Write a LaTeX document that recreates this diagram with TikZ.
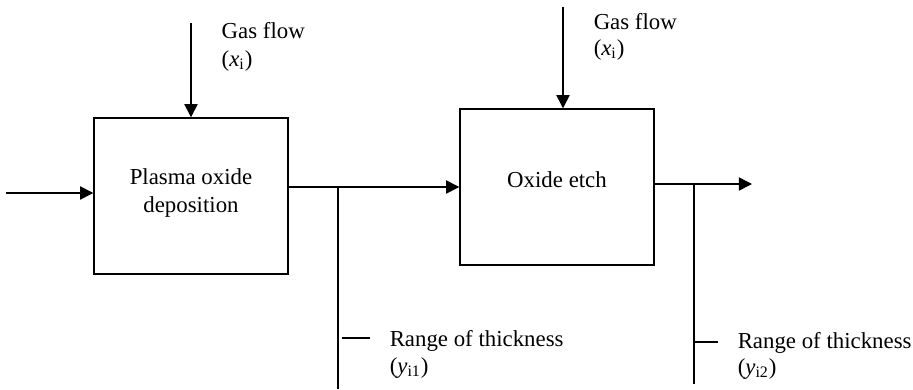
\documentclass[tikz,border=0pt]{standalone}
\usepackage{fontspec}
\setmainfont{Liberation Serif}
\usetikzlibrary{arrows.meta}

\begin{document}
\begin{tikzpicture}[x=0.02cm, y=-0.02cm, line width=0.85pt,
        font=\fontsize{13}{15.6}\selectfont,
        stagebox/.style={draw, minimum width=3.88cm, minimum height=3.12cm, align=center},
        flow/.style={-{Triangle[length=7.5pt, width=7.5pt]}},
        lbl/.style={anchor=base west, inner sep=0pt}]
        \useasboundingbox (0,0) rectangle (913,389);

        \node[stagebox, text depth=6pt] (dep) at (191,196) {Plasma oxide\\deposition};
        \node[stagebox, text depth=8pt] (etch) at (557,187) {Oxide etch};

        \coordinate (feed) at (6,193);
        \coordinate (gas1top) at (191,23);
        \coordinate (gas2top) at (563,7);
        \coordinate (out) at (752,184);
        \draw[flow] (feed) -- (feed -| dep.west);
        \draw[flow] (gas1top) -- (gas1top |- dep.north);
        \draw[flow] (gas2top) -- (gas2top |- etch.north);
        \draw[flow] (dep.east |- etch.west) -- (etch.west);
        \draw[flow] (out -| etch.east) -- (out);

        \coordinate (tap1) at (338,187);
        \coordinate (tap2) at (694,184);
        \draw (tap1) -- (tap1 |- 0,389);
        \draw (tap2) -- (tap2 |- 0,384);
        \draw (342,338) -- (370,338);
        \draw (694,342) -- (718,342);

        \node[lbl] (gas1) at (221,38) {Gas flow};
        \node[lbl] (gas1sym) at (221,66) {(\textit{x}\textsubscript{i})};
        \node[lbl] (gas2) at (593,29) {Gas flow};
        \node[lbl] (gas2sym) at (593,55) {(\textit{x}\textsubscript{i})};
        \node[lbl] (thick1) at (389,346) {Range of thickness};
        \node[lbl] (thick1sym) at (389,373) {(\textit{y}\textsubscript{i1})};
        \node[lbl] (thick2) at (737,348) {Range of thickness};
        \node[lbl] (thick2sym) at (737,374) {(\textit{y}\textsubscript{i2})};
    \end{tikzpicture}
\end{document}
